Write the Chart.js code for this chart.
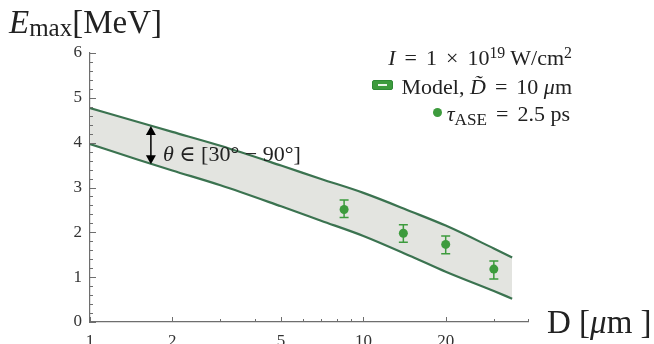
<!DOCTYPE html>
<html>
<head>
<meta charset="utf-8">
<script src="https://cdn.jsdelivr.net/npm/chart.js@4.4.1/dist/chart.umd.min.js"></script>
<style>
  html, body { margin: 0; padding: 0; background: #fff; }
  #wrap { position: relative; width: 654px; height: 344px; overflow: hidden;
          font-family: "Liberation Serif", "DejaVu Serif", serif; color: #222; }
  canvas { position: absolute; left: 0; top: 0; }
  .t { position: absolute; white-space: nowrap; line-height: 1; }
  .sup { font-size: .72em; position: relative; top: -.46em; }
  .sub { font-size: .78em; position: relative; top: .25em; }
  .op { margin: 0 .16em; }
  .icon { display: inline-block; width: 19px; height: 8px; background: #3d9b3d; border: 1px solid #2f8a35;
          border-radius: 2px; position: relative; top: -4px; margin-right: 9px; }
  .icon:after { content: ""; position: absolute; left: 5px; top: 3px; width: 9px; height: 2px; background: #e8f4e8; }
  .dot { display: inline-block; width: 9px; height: 9px; border-radius: 50%; background: #3d9b3d;
         position: relative; top: -4px; margin-right: 5px; }
</style>
</head>
<body>
<div id="wrap">
  <canvas id="myChart" width="654" height="344"></canvas>
  <div class="t" style="left:9px;top:6px;font-size:33px"><i>E</i><span style="font-size:25px;position:relative;top:3px">max</span>[MeV]</div>
  <div class="t" style="left:547px;top:306px;font-size:33px">D [<i>μ</i>m ]</div>
  <div class="t" style="right:82px;top:47px;font-size:22px;text-align:right"><i>I</i> <span class="op">=</span> 1 <span class="op">×</span> 10<span class="sup">19</span> W/cm<span class="sup">2</span></div>
  <div class="t" style="right:82px;top:76px;font-size:22px;text-align:right"><span class="icon"></span>Model, <i>D̃</i> <span class="op">=</span> 10 <i>μ</i>m</div>
  <div class="t" style="right:84px;top:103px;font-size:22px;text-align:right"><span class="dot"></span><i>τ</i><span class="sub">ASE</span> <span class="op">=</span> 2.5 ps</div>
  <div class="t" style="left:163px;top:143px;font-size:22px"><i>θ</i> ∈ [30° − 90°]</div>
</div>
<script>
// model band (upper / lower edge) and measured points
const bandD = [1, 1.5, 2, 3, 5, 7, 10, 15, 20, 30, 35];
const bandUpper = [4.77, 4.46, 4.24, 3.93, 3.49, 3.19, 2.88, 2.46, 2.15, 1.64, 1.44];
const bandLower = [3.97, 3.62, 3.38, 3.05, 2.58, 2.26, 1.92, 1.46, 1.12, 0.69, 0.52];

const pointD = [8.5, 14, 20, 30];
const pointE = [2.51, 1.98, 1.73, 1.18];
const errHi = [2.72, 2.17, 1.92, 1.36];
const errLo = [2.33, 1.78, 1.52, 0.96];

const xTickVals = [1, 2, 3, 4, 5, 6, 7, 8, 9, 10, 20, 30, 40];
const xTickLabels = [1, 2, 5, 10, 20];
const yTickLabels = [0, 1, 2, 3, 4, 5, 6];

// arrow annotation
const arrowD = 1.67;
const arrowTop = 4.37;
const arrowBottom = 3.52;

const lineGreen = '#3b7350';
const dotGreen = '#3d9b3d';
const axisGray = '#6e6e6e';

const toXY = (xs, ys) => xs.map((x, i) => ({ x: x, y: ys[i] }));

const yTickVals = [];
for (let i = 0; i <= 30; i++) yTickVals.push(i / 5);

const innerTicks = {
  id: 'innerTicks',
  afterDraw(chart) {
    const ctx = chart.ctx;
    const xs = chart.scales.x, ys = chart.scales.y;
    const a = chart.chartArea;
    ctx.save();
    ctx.strokeStyle = axisGray;
    ctx.lineWidth = 1;
    xTickVals.forEach(v => {
      const px = Math.round(xs.getPixelForValue(v)) + 0.5;
      const len = xTickLabels.includes(v) ? 5 : 3;
      ctx.beginPath();
      ctx.moveTo(px, a.bottom);
      ctx.lineTo(px, a.bottom - len);
      ctx.stroke();
    });
    yTickVals.forEach(v => {
      const py = Math.round(ys.getPixelForValue(v)) + 0.5;
      const major = Math.abs(v - Math.round(v)) < 1e-9;
      const len = major ? 6 : 3;
      ctx.beginPath();
      ctx.moveTo(a.left, py);
      ctx.lineTo(a.left + len, py);
      ctx.stroke();
    });
    ctx.restore();
  }
};

const errorBars = {
  id: 'errorBars',
  afterDatasetsDraw(chart) {
    const ctx = chart.ctx;
    const xs = chart.scales.x, ys = chart.scales.y;
    ctx.save();
    ctx.strokeStyle = dotGreen;
    ctx.lineWidth = 1.5;
    pointD.forEach((d, i) => {
      const px = xs.getPixelForValue(d);
      const t = ys.getPixelForValue(errHi[i]);
      const b = ys.getPixelForValue(errLo[i]);
      ctx.beginPath();
      ctx.moveTo(px, t); ctx.lineTo(px, b);
      ctx.moveTo(px - 4.5, t); ctx.lineTo(px + 4.5, t);
      ctx.moveTo(px - 4.5, b); ctx.lineTo(px + 4.5, b);
      ctx.stroke();
    });

    // double arrow
    const ax = xs.getPixelForValue(arrowD);
    const at = ys.getPixelForValue(arrowTop);
    const ab = ys.getPixelForValue(arrowBottom);
    ctx.strokeStyle = '#000';
    ctx.fillStyle = '#000';
    ctx.lineWidth = 1.5;
    ctx.beginPath();
    ctx.moveTo(ax, at + 6); ctx.lineTo(ax, ab - 6);
    ctx.stroke();
    ctx.beginPath();
    ctx.moveTo(ax, at); ctx.lineTo(ax - 5, at + 9); ctx.lineTo(ax + 5, at + 9); ctx.closePath();
    ctx.fill();
    ctx.beginPath();
    ctx.moveTo(ax, ab); ctx.lineTo(ax - 5, ab - 9); ctx.lineTo(ax + 5, ab - 9); ctx.closePath();
    ctx.fill();
    ctx.restore();
  }
};

const data = {
  datasets: [
    {
      label: 'points',
      data: toXY(pointD, pointE),
      showLine: false,
      pointRadius: 4.5,
      pointBackgroundColor: dotGreen,
      pointBorderWidth: 0,
      order: 0
    },
    {
      label: 'upper',
      data: toXY(bandD, bandUpper),
      borderColor: lineGreen,
      borderWidth: 2.2,
      backgroundColor: '#e3e4e0',
      fill: '+1',
      pointRadius: 0,
      cubicInterpolationMode: 'monotone',
      order: 1
    },
    {
      label: 'lower',
      data: toXY(bandD, bandLower),
      borderColor: lineGreen,
      borderWidth: 2.2,
      fill: false,
      pointRadius: 0,
      cubicInterpolationMode: 'monotone',
      order: 2
    }
  ]
};

const config = {
  type: 'line',
  data: data,
  options: {
    responsive: false,
    animation: false,
    events: [],
    layout: { padding: { left: 0, top: 53, right: 126, bottom: 0 } },
    plugins: {
      legend: { display: false },
      tooltip: { enabled: false },
      filler: { drawTime: 'beforeDatasetsDraw' }
    },
    scales: {
      x: {
        type: 'logarithmic',
        min: 1,
        max: 40,
        afterBuildTicks: s => { s.ticks = xTickVals.map(v => ({ value: v })); },
        afterFit: s => { s.height = 22; },
        grid: { display: true, drawOnChartArea: false, drawTicks: false, color: 'transparent' },
        border: { display: true, color: axisGray, width: 1.2 },
        ticks: {
          autoSkip: false,
          maxRotation: 0,
          padding: 9,
          color: '#333',
          font: { family: 'Liberation Serif', size: 17 },
          callback: v => xTickLabels.includes(v) ? String(v) : ''
        }
      },
      y: {
        type: 'linear',
        min: 0,
        max: 6,
        afterBuildTicks: s => { s.ticks = yTickVals.map(v => ({ value: v })); },
        afterFit: s => { s.width = 90; },
        grid: { display: true, drawOnChartArea: false, drawTicks: false, color: 'transparent' },
        border: { display: true, color: axisGray, width: 1.2 },
        ticks: {
          autoSkip: false,
          padding: 8,
          color: '#333',
          font: { family: 'Liberation Serif', size: 17 },
          callback: v => {
            const r = Math.round(v);
            return Math.abs(v - r) < 1e-9 && yTickLabels.includes(r) ? String(r) : '';
          }
        }
      }
    }
  },
  plugins: [innerTicks, errorBars]
};

let myChart = new Chart(document.getElementById('myChart'), config);
</script>
</body>
</html>
